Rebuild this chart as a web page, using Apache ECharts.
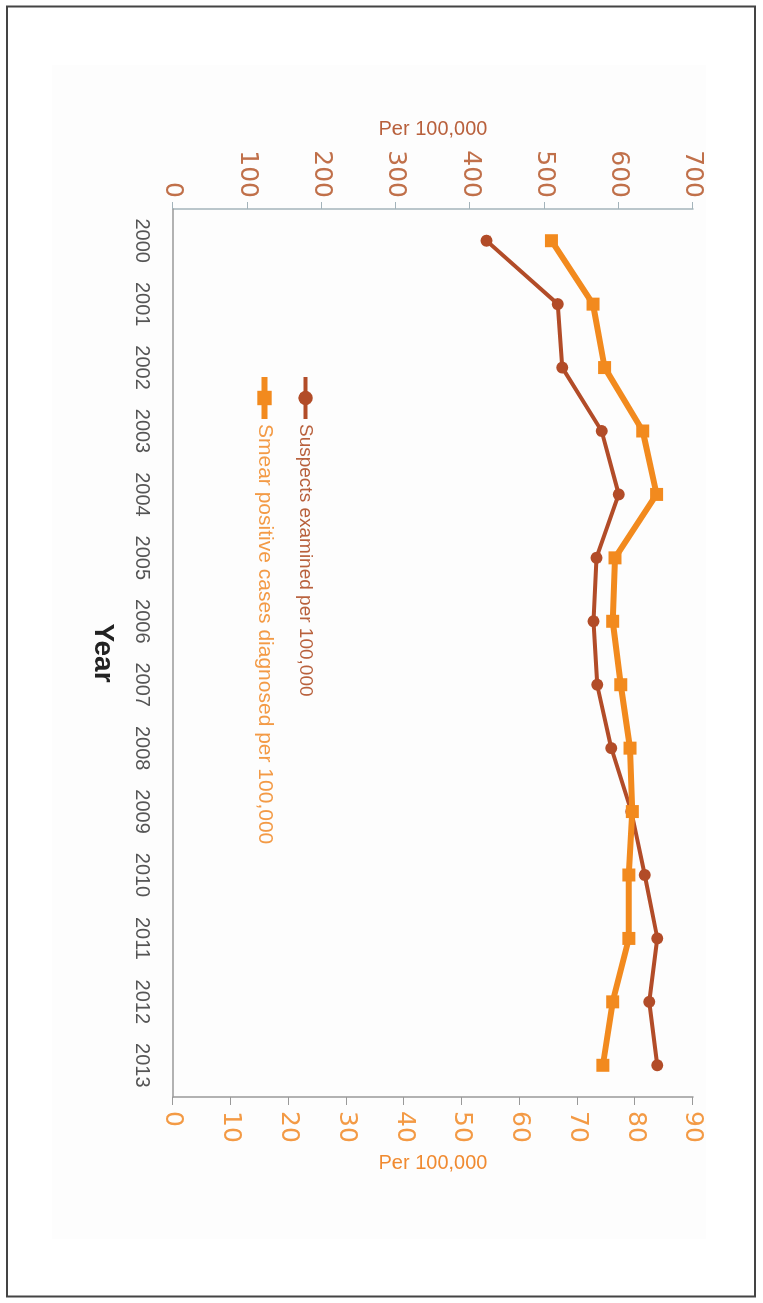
<!DOCTYPE html>
<html>
<head>
<meta charset="utf-8">
<script src="https://cdn.jsdelivr.net/npm/echarts@6/dist/echarts.min.js"></script>
<style>
  html, body { margin: 0; padding: 0; background: #fff; overflow: hidden; }
  /* chart is drawn landscape and turned a quarter clockwise, like the scanned page */
  #chart {
    position: absolute; left: 0; top: 0;
    width: 1303px; height: 763px;
    transform-origin: 0 0;
    transform: translate(763px, 0) rotate(90deg);
  }
</style>
</head>
<body>
<div id="chart"></div>
<script>
const years = ['2000', '2001', '2002', '2003', '2004', '2005', '2006',
               '2007', '2008', '2009', '2010', '2011', '2012', '2013'];
// left axis, 0-700
const suspectsExamined = [422, 518, 524, 577, 600, 570, 566, 571, 590, 617, 635, 652, 641, 652];
// right axis, 0-90
const smearPositive = [65.5, 72.7, 74.7, 81.3, 83.7, 76.5, 76.1, 77.5, 79.1, 79.5, 78.9, 78.9, 76.1, 74.4];

const suspectsName = 'Suspects examined per 100,000';
const smearName = 'Smear positive cases diagnosed per 100,000';

const brown = '#b24c28';
const orange = '#f28a1e';
const font = 'Liberation Sans, Arial, sans-serif';
const numFont = 'DejaVu Sans, sans-serif';

var chart = echarts.init(document.getElementById('chart'));

const option = {
  animation: false,
  backgroundColor: '#fff',
  textStyle: { fontFamily: font },
  graphic: [
    {
      type: 'rect', z: -10, silent: true,
      shape: { x: 65, y: 57, width: 1174, height: 654 },
      style: { fill: '#fdfdfd' }
    },
    {
      type: 'rect', z: 100, silent: true,
      shape: { x: 6.5, y: 8, width: 1290, height: 748 },
      style: { fill: 'none', stroke: '#444', lineWidth: 2 }
    }
  ],
  grid: { left: 209, right: 206, top: 70, bottom: 173, containLabel: false },
  legend: {
    orient: 'vertical',
    left: 369,
    top: 443,
    itemWidth: 42,
    itemHeight: 18,
    itemGap: 21,
    lineStyle: { width: 'inherit' },
    data: [
      { name: suspectsName, textStyle: { color: '#b8603c', fontSize: 19 } },
      { name: smearName, textStyle: { color: '#f39a45', fontSize: 21 } }
    ]
  },
  xAxis: {
    type: 'category',
    data: years,
    boundaryGap: true,
    name: 'Year',
    nameLocation: 'middle',
    nameGap: 56,
    nameTextStyle: { fontSize: 28, fontWeight: 'bold', color: '#222' },
    axisLine: { lineStyle: { color: '#999', width: 1.5 } },
    axisTick: { length: 7, lineStyle: { color: '#999' } },
    axisLabel: { fontSize: 20, color: '#555', margin: 21, interval: 0 }
  },
  yAxis: [
    {
      type: 'value',
      min: 0, max: 700, interval: 100,
      position: 'left',
      name: 'Per 100,000',
      nameLocation: 'middle',
      nameGap: 70,
      nameTextStyle: { fontSize: 20, color: '#b8603c' },
      axisLine: { show: true, lineStyle: { color: '#a3b3ba', width: 1.5 } },
      axisTick: { show: true, length: 7, lineStyle: { color: '#a3b3ba' } },
      axisLabel: { fontSize: 25, fontFamily: numFont, color: '#c0704a', margin: 11 },
      splitLine: { show: false }
    },
    {
      type: 'value',
      min: 0, max: 90, interval: 10,
      position: 'right',
      name: 'Per 100,000',
      nameLocation: 'middle',
      nameGap: 50,
      nameTextStyle: { fontSize: 20, color: '#f08a30' },
      axisLine: { show: true, lineStyle: { color: '#999', width: 1.5 } },
      axisTick: { show: true, length: 8, lineStyle: { color: '#999' } },
      axisLabel: { fontSize: 25, fontFamily: numFont, color: '#f39a45', margin: 14 },
      splitLine: { show: false }
    }
  ],
  series: [
    {
      name: suspectsName,
      type: 'line',
      yAxisIndex: 0,
      data: suspectsExamined,
      symbol: 'circle',
      symbolSize: 12,
      color: brown,
      lineStyle: { width: 4, color: brown },
      itemStyle: { color: brown }
    },
    {
      name: smearName,
      type: 'line',
      yAxisIndex: 1,
      data: smearPositive,
      symbol: 'rect',
      symbolSize: 13,
      color: orange,
      lineStyle: { width: 6, color: orange },
      itemStyle: { color: orange }
    }
  ]
};

chart.setOption(option);
</script>
</body>
</html>
